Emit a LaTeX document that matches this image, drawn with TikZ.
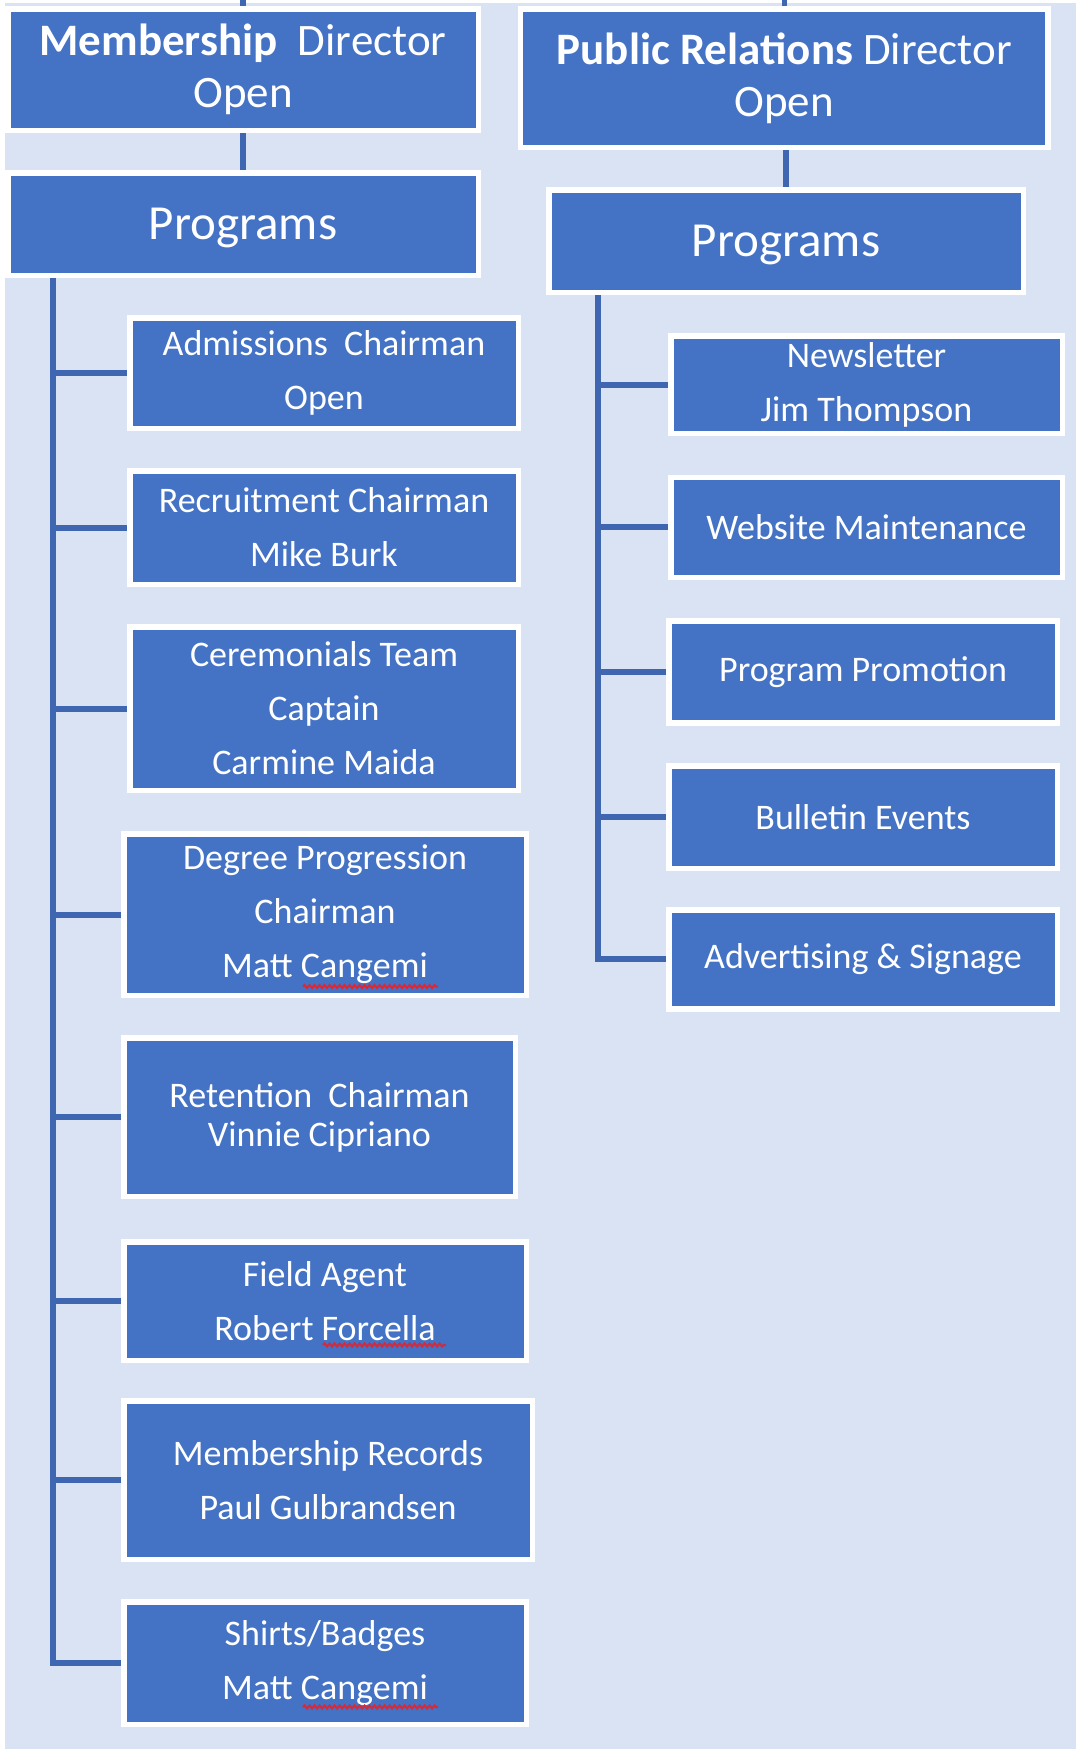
\documentclass[tikz,border=0pt]{standalone}
\usepackage{fontspec}
\setmainfont{Carlito}
\usetikzlibrary{decorations.pathmorphing}
\definecolor{boxblue}{HTML}{4472C4}
\definecolor{bgblue}{HTML}{DAE3F3}
\definecolor{linkblue}{HTML}{3F66B0}
\definecolor{squigred}{HTML}{D42A3A}
\pgfdeclarelayer{bg}
\pgfsetlayers{bg,main}
\begin{document}
\begin{tikzpicture}[x=1pt,y=-1pt,
  orgbox/.style={draw=white, line width=5.5pt, fill=boxblue, text=white,
    inner sep=0pt, align=center, font=\fontsize{36}{54}\selectfont},
  headfont/.style={font=\fontsize{45}{52}\selectfont},
  progfont/.style={font=\fontsize{49}{55}\selectfont, text depth=0pt},
  link/.style={draw=linkblue, line width=6pt, line join=miter},
  squig/.style={draw=squigred, line width=2pt, decorate,
    decoration={snake, segment length=5pt, amplitude=1.5pt}}]
\useasboundingbox (0,0) rectangle (1076,1749);

% left column
\node[orgbox, headfont, minimum width=470.5pt, minimum height=121.5pt] (mdir) at (243,69.5)
  {\textbf{Membership}\ \ Director\\Open};
\node[orgbox, progfont, minimum width=470.5pt, minimum height=102.5pt] (lprog) at (243,224) {Programs};
\node[orgbox, minimum width=388.5pt, minimum height=110.5pt] (adm) at (324,373)
  {Admissions\ \ Chairman\\Open};
\node[orgbox, minimum width=388.5pt, minimum height=113.5pt] (rec) at (324,527.5)
  {Recruitment Chairman\\Mike Burk};
\node[orgbox, minimum width=388.5pt, minimum height=163.5pt] (cer) at (324,708.5)
  {Ceremonials Team\\Captain\\Carmine Maida};
\node[orgbox, minimum width=402.5pt, minimum height=161.5pt] (deg) at (325,914.5)
  {Degree Progression\\Chairman\\Matt Cangemi};
\node[orgbox, font=\fontsize{36}{39}\selectfont, minimum width=391.5pt, minimum height=158.5pt] (ret) at (319.5,1117)
  {Retention\ \ Chairman\\Vinnie Cipriano};
\node[orgbox, minimum width=402.5pt, minimum height=118.5pt] (fld) at (325,1301)
  {Field Agent\\Robert Forcella};
\node[orgbox, minimum width=408.5pt, minimum height=158.5pt] (mrec) at (328,1480)
  {Membership Records\\Paul Gulbrandsen};
\node[orgbox, minimum width=402.5pt, minimum height=122.5pt] (shirts) at (325,1663)
  {Shirts/Badges\\Matt Cangemi};

% right column
\node[orgbox, headfont, minimum width=527.5pt, minimum height=138.5pt] (prdir) at (784.3,78)
  {\textbf{Public Relations} Director\\Open};
\node[orgbox, progfont, minimum width=474.5pt, minimum height=102.5pt] (rprog) at (786,241) {Programs};
\node[orgbox, minimum width=391.5pt, minimum height=97.5pt] (news) at (866.5,384.5)
  {Newsletter\\Jim Thompson};
\node[orgbox, minimum width=391.5pt, minimum height=100pt] (web) at (866.5,527.3)
  {Website Maintenance};
\node[orgbox, minimum width=388.5pt, minimum height=102pt] (promo) at (863,671.8)
  {Program Promotion};
\node[orgbox, minimum width=388.5pt, minimum height=102.5pt] (bull) at (863,817)
  {Bulletin Events};
\node[orgbox, minimum width=388.5pt, minimum height=99pt] (adv) at (863,959.3)
  {Advertising \& Signage};

\coordinate (ltrunk) at (53,0);
\coordinate (rtrunk) at (597.6,0);
\coordinate (ltick) at (243,0);
\coordinate (rtick) at (784.3,0);

\begin{pgfonlayer}{bg}
  \fill[bgblue] (5,3) rectangle (1076,1749);
  \draw[link, line width=5.5pt] (mdir.north) -- (ltick);
  \draw[link, line width=5.5pt] (prdir.north) -- (rtick);
  \draw[link] (mdir.south) -- (lprog.north);
  \draw[link] (rprog.north |- prdir.south) -- (rprog.north);
  \foreach \n in {adm,rec,cer,deg,ret,fld,mrec,shirts}
    \draw[link] (lprog.south -| ltrunk) |- (\n.west);
  \foreach \n in {news,web,promo,bull,adv}
    \draw[link] (rprog.south -| rtrunk) |- (\n.west);
\end{pgfonlayer}

% spell-check underlines
\draw[squig] ([shift={(-22,72)}]deg.center) -- ([shift={(113,72)}]deg.center);
\draw[squig] ([shift={(-2,44)}]fld.center) -- ([shift={(121,44)}]fld.center);
\draw[squig] ([shift={(-22,44)}]shirts.center) -- ([shift={(113,44)}]shirts.center);
\end{tikzpicture}
\end{document}
